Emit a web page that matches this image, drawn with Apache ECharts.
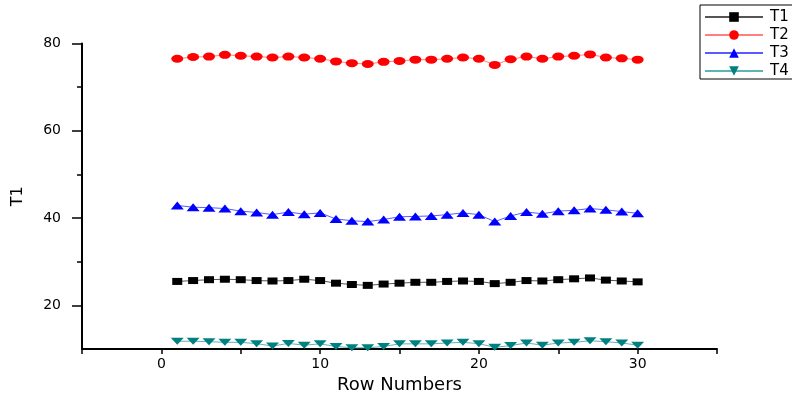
<!DOCTYPE html>
<html>
<head>
<meta charset="utf-8">
<script src="https://cdn.jsdelivr.net/npm/echarts@6/dist/echarts.min.js"></script>
<style>
  html, body { margin: 0; padding: 0; background: #fff; }
  #chart { width: 792px; height: 399px; }
</style>
</head>
<body>
<div id="chart"></div>
<script>
// Row numbers on the x axis
const rows = [1, 2, 3, 4, 5, 6, 7, 8, 9, 10, 11, 12, 13, 14, 15,
              16, 17, 18, 19, 20, 21, 22, 23, 24, 25, 26, 27, 28, 29, 30];

// Measured values per row
const t1 = [25.5, 25.7, 25.9, 26.0, 25.9, 25.7, 25.6, 25.7, 26.0, 25.7,
            25.1, 24.8, 24.6, 24.9, 25.1, 25.3, 25.3, 25.5, 25.6, 25.5,
            25.0, 25.3, 25.7, 25.6, 25.9, 26.1, 26.3, 25.8, 25.6, 25.4];
const t2 = [76.5, 76.9, 77.0, 77.4, 77.2, 77.0, 76.8, 77.0, 76.8, 76.5,
            75.9, 75.5, 75.3, 75.8, 76.0, 76.3, 76.3, 76.5, 76.8, 76.5,
            75.1, 76.4, 77.0, 76.5, 77.0, 77.2, 77.5, 76.8, 76.6, 76.3];
const t3 = [42.9, 42.5, 42.4, 42.2, 41.6, 41.3, 40.8, 41.4, 40.9, 41.2,
            39.8, 39.4, 39.2, 39.7, 40.3, 40.4, 40.5, 40.8, 41.2, 40.8,
            39.2, 40.5, 41.4, 41.0, 41.6, 41.8, 42.2, 41.9, 41.5, 41.1];
const t4 = [11.8, 11.8, 11.7, 11.55, 11.55, 11.25, 10.7, 11.3, 10.9, 11.2,
            10.6, 10.3, 10.3, 10.6, 11.2, 11.2, 11.2, 11.4, 11.55, 11.25,
            10.4, 10.8, 11.4, 10.9, 11.4, 11.55, 11.9, 11.7, 11.4, 10.9];

// Axis ticks
const xLabelValues = [0, 10, 20, 30];
const yLabelValues = [20, 40, 60, 80];
const yMinorValues = [30, 50, 70];

const FONT = 'DejaVu Sans';
const pairs = vals => rows.map((r, i) => [r, vals[i]]);

const chart = echarts.init(document.getElementById('chart'), null, { renderer: 'canvas' });

function lineSeries(name, vals, color, lineColor, symbol, size, rotate) {
  return {
    name: name,
    type: 'line',
    data: pairs(vals),
    symbol: symbol,
    symbolSize: size,
    symbolRotate: rotate || 0,
    showAllSymbol: true,
    clip: false,
    itemStyle: { color: color, borderWidth: 0 },
    lineStyle: { color: lineColor, width: 1 },
    emphasis: { disabled: true },
    animation: false
  };
}

chart.setOption({
  animation: false,
  backgroundColor: '#ffffff',
  grid: { left: 82, right: 75, top: 43.5, bottom: 47.5, containLabel: false },
  legend: {
    left: 700,
    top: 5,
    orient: 'vertical',
    padding: [4, 30, 0, 4],
    itemGap: 2,
    itemWidth: 58,
    itemHeight: 12,
    borderColor: '#000',
    borderWidth: 1,
    textStyle: { fontFamily: FONT, fontSize: 15, lineHeight: 16, color: '#000', padding: [0, 0, 0, 2] },
    data: ['T1', 'T2', 'T3', 'T4']
  },
  xAxis: {
    type: 'value',
    min: -5,
    max: 35,
    interval: 5,
    name: 'Row Numbers',
    nameLocation: 'middle',
    nameGap: 26,
    nameTextStyle: { fontFamily: FONT, fontSize: 18, color: '#000' },
    axisLine: { show: true, onZero: false, lineStyle: { color: '#000', width: 2 } },
    axisTick: { show: true, inside: false, length: 5, lineStyle: { color: '#000', width: 1.5 } },
    axisLabel: {
      fontFamily: FONT, fontSize: 14, color: '#000', margin: 8,
      customValues: xLabelValues
    },
    splitLine: { show: false }
  },
  yAxis: [
    {
      type: 'value',
      min: 10,
      max: 80,
      name: 'T1',
      nameLocation: 'middle',
      nameGap: 56,
      nameTextStyle: { fontFamily: FONT, fontSize: 16, color: '#000' },
      axisLine: { show: true, onZero: false, lineStyle: { color: '#000', width: 2 } },
      axisTick: { show: true, inside: false, length: 10, customValues: yLabelValues,
                  lineStyle: { color: '#000', width: 1.5 } },
      axisLabel: { fontFamily: FONT, fontSize: 14, color: '#000', margin: 21,
                   customValues: yLabelValues },
      splitLine: { show: false }
    },
    {
      type: 'value',
      min: 10,
      max: 80,
      position: 'left',
      axisLine: { show: false, onZero: false },
      axisTick: { show: true, inside: false, length: 5, customValues: yMinorValues,
                  lineStyle: { color: '#000', width: 1.5 } },
      axisLabel: { show: false },
      splitLine: { show: false }
    }
  ],
  series: [
    lineSeries('T1', t1, '#000000', '#555555', 'rect', [10, 7]),
    lineSeries('T2', t2, '#ff0000', '#ff8080', 'circle', [12, 8]),
    lineSeries('T3', t3, '#0000ff', '#5a5aff', 'triangle', [13, 8]),
    lineSeries('T4', t4, '#008080', '#5fb3b3', 'triangle', [13, 7], 180)
  ]
});
</script>
</body>
</html>
